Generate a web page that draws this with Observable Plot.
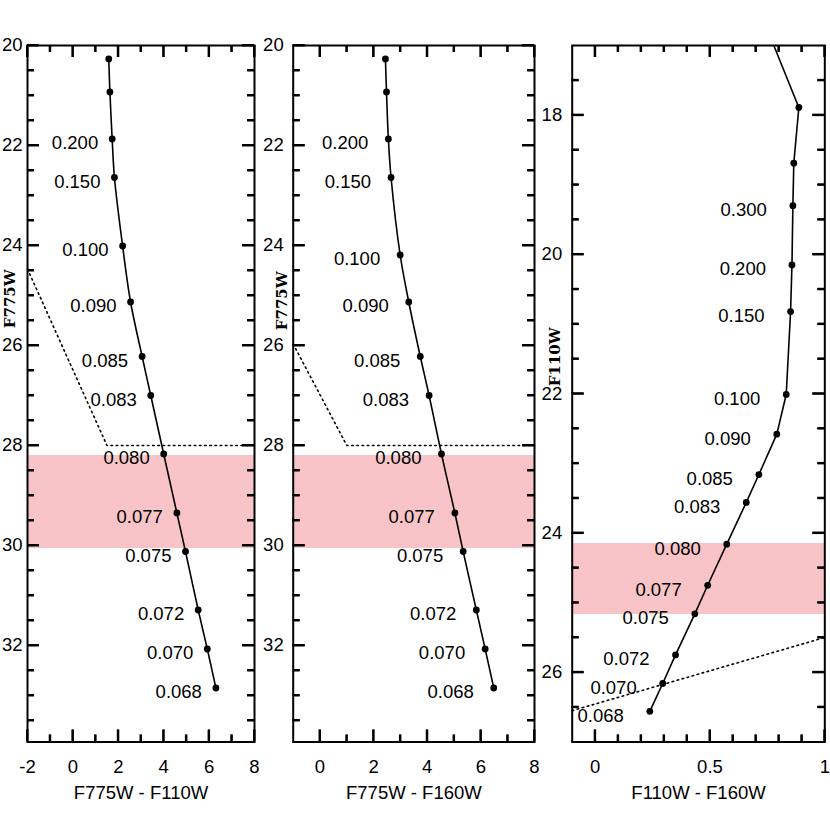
<!DOCTYPE html>
<html>
<head>
<meta charset="utf-8">
<script src="https://cdn.jsdelivr.net/npm/d3@7"></script>
<script src="https://cdn.jsdelivr.net/npm/@observablehq/plot@0.6"></script>
<style>
  body { margin: 0; background: #fff; }
  #wrap { position: relative; width: 830px; height: 830px; overflow: hidden; background: #fff; }
  .panel { position: absolute; top: 0; }
  .panel svg { overflow: visible; }
</style>
</head>
<body>
<div id="wrap"></div>
<script>
// ---------- data ----------
// Panels 1 & 2 (F775W vs colours)
const massLabels12 = ["", "", "0.200", "0.150", "0.100", "0.090", "0.085", "0.083", "0.080", "0.077", "0.075", "0.072", "0.070", "0.068"];
const f775wP1 = [20.27, 20.93, 21.87, 22.64, 24.01, 25.13, 26.22, 27.00, 28.17, 29.35, 30.12, 31.29, 32.07, 32.85];
const colF775F110 = [1.58, 1.63, 1.73, 1.83, 2.19, 2.54, 3.05, 3.43, 4.00, 4.58, 4.96, 5.52, 5.92, 6.30];
const f775wP2 = [20.27, 20.93, 21.87, 22.64, 24.19, 25.13, 26.22, 27.00, 28.17, 29.35, 30.12, 31.29, 32.07, 32.85];
const colF775F160 = [2.44, 2.48, 2.55, 2.65, 2.99, 3.31, 3.74, 4.07, 4.53, 5.03, 5.34, 5.83, 6.16, 6.48];

// Panel 3 (F110W vs F110W-F160W)
const massLabels3 = ["", "", "0.300", "0.200", "0.150", "0.100", "0.090", "0.085", "0.083", "0.080", "0.077", "0.075", "0.072", "0.070", "0.068"];
const f110w = [17.89, 18.69, 19.30, 20.15, 20.82, 22.01, 22.58, 23.16, 23.56, 24.16, 24.75, 25.16, 25.75, 26.16, 26.56];
const colF110F160 = [0.887, 0.865, 0.861, 0.857, 0.851, 0.832, 0.791, 0.713, 0.658, 0.573, 0.490, 0.434, 0.350, 0.294, 0.238];
// isochrone continues above the top point to the frame edge
const lineTop3 = {c: 0.778, m: 17.0};

// detection limits (dotted)
const limit1C = [-2, 1.5, 8],   limit1M = [24.47, 28.0, 28.0];
const limit2C = [-1, 1.0, 8],   limit2M = [25.97, 28.0, 28.0];
const limit3C = [-0.1, 1.0],    limit3M = [26.55, 25.5];

// shaded magnitude bands
const band12 = [28.2, 30.06];
const band3 = [24.15, 25.17];

// axes
const xDomain1 = [-2, 8], xDomain2 = [-1, 8], xDomain3 = [-0.1, 1];
const yDomain12 = [20, 33.93], yDomain3 = [17, 27];
const xMajor1 = [-2, 0, 2, 4, 6, 8], xMinor1 = [-1, 1, 3, 5, 7];
const xMajor2 = [0, 2, 4, 6, 8], xMinor2 = [1, 3, 5, 7];
const xMajor3 = [0, 0.5, 1], xMinor3 = [0.1, 0.2, 0.3, 0.4, 0.6, 0.7, 0.8, 0.9];
const yMajor12 = [20, 22, 24, 26, 28, 30, 32];
const yMinor12 = [20.5, 21, 21.5, 22.5, 23, 23.5, 24.5, 25, 25.5, 26.5, 27, 27.5, 28.5, 29, 29.5, 30.5, 31, 31.5, 32.5, 33, 33.5];
const yMajor3 = [18, 20, 22, 24, 26];
const yMinor3 = [17.5, 18.5, 19, 19.5, 20.5, 21, 21.5, 22.5, 23, 23.5, 24.5, 25, 25.5, 26.5];

// ---------- drawing ----------
const H = 830, MT = 45, MB = 88.5;
const FH = H - MT - MB;
const MAJ = 12, MIN = 7, TW = 2;

function zip(cs, ms, labels) {
  return cs.map((c, i) => ({c, m: ms[i], label: labels ? labels[i] : ""}));
}

function panel(o) {
  const FW = o.width - o.marginLeft - o.marginRight;
  const pts = zip(o.col, o.mag, o.labels);
  const linePts = o.lineExtra ? [o.lineExtra, ...pts] : pts;
  const lim = zip(o.limC, o.limM);
  const fmt = d => String(d);
  const tk = {stroke: "black", strokeWidth: TW};
  const plot = Plot.plot({
    width: o.width, height: H,
    marginLeft: o.marginLeft, marginRight: o.marginRight, marginTop: MT, marginBottom: MB,
    x: {domain: o.xDomain},
    y: {domain: o.yDomain, reverse: true},
    style: {fontFamily: "'Liberation Sans', Arial, Helvetica, sans-serif", fontSize: "18.5px", color: "#000", background: "#fff", overflow: "visible"},
    marks: [
      Plot.rect([{y1: o.band[0], y2: o.band[1]}], {y1: "y1", y2: "y2", fill: "#f8c4c7"}),
      Plot.line(lim, {x: "c", y: "m", stroke: "#000", strokeWidth: 1.6, strokeDasharray: "1.6,3.6"}),
      Plot.line(linePts, {x: "c", y: "m", stroke: "#000", strokeWidth: 1.6, curve: o.curve}),
      Plot.dot(pts, {x: "c", y: "m", r: 3.4, fill: "#000", stroke: "none"}),
      Plot.text(pts.filter(d => d.label), {x: "c", y: "m", text: "label", textAnchor: "end", dx: o.labelDx, dy: 4.5, fill: "#000"}),
      Plot.frame({stroke: "#000", strokeWidth: 2}),
      // inward ticks (rules spanning the frame, shortened with insets)
      Plot.ruleX(o.xMajor, {x: d => d, insetTop: FH - MAJ, ...tk}),
      Plot.ruleX(o.xMajor, {x: d => d, insetBottom: FH - MAJ, ...tk}),
      Plot.ruleX(o.xMinor, {x: d => d, insetTop: FH - MIN, ...tk}),
      Plot.ruleX(o.xMinor, {x: d => d, insetBottom: FH - MIN, ...tk}),
      Plot.ruleY(o.yMajor, {y: d => d, insetRight: FW - MAJ, ...tk}),
      Plot.ruleY(o.yMajor, {y: d => d, insetLeft: FW - MAJ, ...tk}),
      Plot.ruleY(o.yMinor, {y: d => d, insetRight: FW - MIN, ...tk}),
      Plot.ruleY(o.yMinor, {y: d => d, insetLeft: FW - MIN, ...tk}),
      // tick labels
      Plot.axisX(o.xMajor, {anchor: "bottom", tickSize: 0, tickPadding: 18, tickFormat: fmt, label: null, fill: "#000"}),
      Plot.axisY(o.yMajor, {anchor: "left", tickSize: 0, tickPadding: o.yPad, tickFormat: fmt, label: null, fill: "#000"}),
      // axis titles
      Plot.text([o.xTitle], {frameAnchor: "bottom", lineAnchor: "middle", textAnchor: "middle", dy: 51.5, text: d => d, fill: "#000"}),
      Plot.text([o.yTitle], {frameAnchor: "left", lineAnchor: "middle", textAnchor: "middle", dx: o.yTitleDx, dy: o.yTitleDy, text: d => d, rotate: -90,
        fontFamily: "'DejaVu Serif', serif", fontWeight: "bold", fontSize: 15, fill: "#000"})
    ]
  });
  // reinforce the inward ticks with lines placed through Plot's own scales
  const sx = plot.scale("x"), sy = plot.scale("y");
  const svg = d3.select(plot);
  const x0 = o.marginLeft, x1 = o.width - o.marginRight, y0 = MT, y1 = H - MB;
  const g = svg.append("g").attr("stroke", "black").attr("stroke-width", TW);
  const seg = (a, b, c, d) => g.append("line").attr("x1", a).attr("y1", b).attr("x2", c).attr("y2", d);
  const xt = (arr, len) => arr.forEach(v => { const p = sx.apply(v); seg(p, y1, p, y1 - len); seg(p, y0, p, y0 + len); });
  const yt = (arr, len) => arr.forEach(v => { const p = sy.apply(v); seg(x0, p, x0 + len, p); seg(x1, p, x1 - len, p); });
  xt(o.xMajor, MAJ); xt(o.xMinor, MIN); yt(o.yMajor, MAJ); yt(o.yMinor, MIN);

  const div = document.createElement("div");
  div.className = "panel";
  div.style.left = o.left + "px";
  div.appendChild(plot);
  document.getElementById("wrap").appendChild(div);
}

panel({
  left: 0, width: 260, marginLeft: 27, marginRight: 6,
  xDomain: xDomain1, yDomain: yDomain12, xMajor: xMajor1, xMinor: xMinor1, yMajor: yMajor12, yMinor: yMinor12,
  col: colF775F110, mag: f775wP1, labels: massLabels12, limC: limit1C, limM: limit1M, band: band12,
  curve: "catmull-rom", labelDx: -14, yPad: 5,
  xTitle: "F775W - F110W", yTitle: "F775W", yTitleDx: -17, yTitleDy: -95
});
panel({
  left: 260, width: 280, marginLeft: 32.7, marginRight: 6,
  xDomain: xDomain2, yDomain: yDomain12, xMajor: xMajor2, xMinor: xMinor2, yMajor: yMajor12, yMinor: yMinor12,
  col: colF775F160, mag: f775wP2, labels: massLabels12, limC: limit2C, limM: limit2M, band: band12,
  curve: "catmull-rom", labelDx: -20, yPad: 9.5,
  xTitle: "F775W - F160W", yTitle: "F775W", yTitleDx: -11, yTitleDy: -93
});
panel({
  left: 540, width: 290, marginLeft: 31.7, marginRight: 5.7,
  xDomain: xDomain3, yDomain: yDomain3, xMajor: xMajor3, xMinor: xMinor3, yMajor: yMajor3, yMinor: yMinor3,
  col: colF110F160, mag: f110w, labels: massLabels3, lineExtra: lineTop3, limC: limit3C, limM: limit3M, band: band3,
  curve: "linear", labelDx: -26, yPad: 10,
  xTitle: "F110W - F160W", yTitle: "F110W", yTitleDx: -16.7, yTitleDy: -37
});
</script>
</body>
</html>
